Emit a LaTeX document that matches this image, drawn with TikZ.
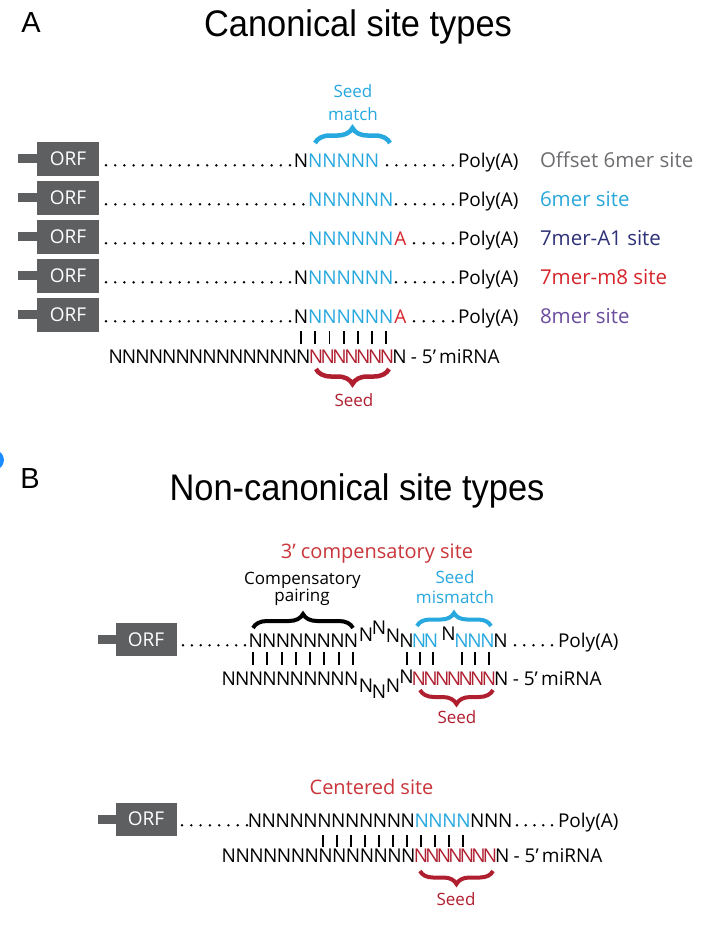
\documentclass[tikz,border=0pt]{standalone}
\usepackage{fontspec}
\setmainfont{Open Sans}
\newfontfamily\arialf{Liberation Sans}
\usetikzlibrary{decorations.pathreplacing}
\definecolor{orfgray}{HTML}{5E5F61}
\definecolor{cyanN}{HTML}{27A8DF}
\definecolor{seedred}{HTML}{B01F30}
\definecolor{redA}{HTML}{D7252C}
\definecolor{compred}{HTML}{C9353A}
\definecolor{navyl}{HTML}{2E3178}
\definecolor{purplel}{HTML}{6B4D9E}
\definecolor{grayl}{HTML}{6D6E71}
\definecolor{bluel}{HTML}{2AA8DA}
\definecolor{blobblue}{HTML}{1A8CFF}
\newcommand\Ns[2]{\foreach \k in {1,...,#1}{\makebox[#2pt]{N}}}
\newcommand\dotrow[4]{\foreach \x in {#1,#2,...,#3}{\fill (\x,#4) circle (1.35pt);}}
\begin{document}
\begin{tikzpicture}[x=1pt,y=-1pt,
  txt/.style={inner sep=0pt, outer sep=0pt, font=\fontsize{19}{21}\selectfont},
  seqt/.style={txt, anchor=base west},
  lbl/.style={inner sep=0pt, outer sep=0pt, anchor=base west, font=\fontsize{20.5}{22}\selectfont},
  small/.style={inner sep=0pt, outer sep=0pt, anchor=base, font=\fontsize{17}{19}\selectfont},
  sub/.style={inner sep=0pt, outer sep=0pt, anchor=base, font=\fontsize{20}{22}\selectfont, text=compred},
  ttl/.style={inner sep=0pt, outer sep=0pt, anchor=base, font=\arialf\fontsize{37}{40}\selectfont},
  panel/.style={inner sep=0pt, outer sep=0pt, anchor=base, font=\arialf\fontsize{29}{32}\selectfont},
  orfbox/.style={fill=orfgray, minimum width=62pt, minimum height=34pt, inner sep=0pt, text=white, font=\fontsize{19}{21}\selectfont},
  bar/.style={line width=1.9pt},
  brc/.style={decorate, decoration={brace, amplitude=#1}, line width=4.5pt},
]
\useasboundingbox (0,0) rectangle (715,932);
\fill[white] (0,0) rectangle (715,932);

% ---------------- Panel A ----------------
\node[panel] (labA) at (31,32) {A};
\node[ttl] (ttlA) at (358,36) {\scalebox{0.93}[1]{Canonical site types}};

% seed match label and brace
\node[small, text=cyanN] (smA1) at (353,97.5) {Seed};
\node[small, text=cyanN] (smA2) at (353,120) {match};
\draw[brc=15, draw=cyanN] (315,143) -- (390,143);

% ORF boxes with stubs
\foreach \yb/\nm in {167/1,206/2,245/3,284/4,323/5}{
  \fill[orfgray] (18,\yb-13) rectangle (38,\yb-4);
  \node[orfbox] (orfA\nm) at (68,\yb-8.5) {ORF};
}

% row 1 : offset 6mer
\dotrow{106}{115.2}{290.5}{165.3}
\node[seqt] (sA1) at (294,167) {\Ns{1}{14.2}\color{cyanN}\Ns{5}{14.2}};
\dotrow{387}{396.4}{453.5}{165.3}
\node[seqt] (pA1) at (458,167) {Poly(A)};
\node[lbl, text=grayl] (lA1) at (540,167) {Offset 6mer site};

% row 2 : 6mer
\dotrow{106}{115.4}{304}{204.3}
\node[seqt] (sA2) at (308.2,206) {\color{cyanN}\Ns{6}{14.2}};
\dotrow{396}{405.5}{453.5}{204.3}
\node[seqt] (pA2) at (458,206) {Poly(A)};
\node[lbl, text=bluel] (lA2) at (540,206) {6mer site};

% row 3 : 7mer-A1
\dotrow{106}{115.4}{304}{243.3}
\node[seqt] (sA3) at (308.2,245) {\color{cyanN}\Ns{6}{14.2}\color{redA}\makebox[14.2pt]{A}};
\dotrow{414}{423.75}{453.5}{243.3}
\node[seqt] (pA3) at (458,245) {Poly(A)};
\node[lbl, text=navyl] (lA3) at (540,245) {7mer-A1 site};

% row 4 : 7mer-m8
\dotrow{106}{115.2}{290.5}{282.3}
\node[seqt] (sA4) at (294,284) {\Ns{1}{14.2}\color{cyanN}\Ns{6}{14.2}};
\dotrow{396}{405.5}{453.5}{282.3}
\node[seqt] (pA4) at (458,284) {Poly(A)};
\node[lbl, text=redA] (lA4) at (540,284) {7mer-m8 site};

% row 5 : 8mer
\dotrow{106}{115.2}{290.5}{321.3}
\node[seqt] (sA5) at (294,323) {\Ns{1}{14.2}\color{cyanN}\Ns{6}{14.2}\color{redA}\makebox[14.2pt]{A}};
\dotrow{414}{423.75}{453.5}{321.3}
\node[seqt] (pA5) at (458,323) {Poly(A)};
\node[lbl, text=purplel] (lA5) at (540,323) {8mer site};

% pairing bars
\foreach \i in {0,...,6}{\draw[bar] ({301.1+14.2*\i},331) -- ++(0,13);}

% miRNA
\node[seqt] (mA) at (109,363) {\Ns{15}{13.4}\color{seedred}\Ns{7}{11.85}\color{black}\makebox[13pt]{N} - 5’\,miRNA};
\draw[brc=15, draw=seedred] (389,369) -- (316,369);
\node[small, text=seedred] (seedA) at (354,406) {Seed};

% ---------------- Panel B ----------------
\fill[blobblue] (-6,460) circle (10pt);
\node[panel] (labB) at (30,488) {B};
\node[ttl] (ttlB) at (357,500) {\scalebox{0.93}[1]{Non-canonical site types}};

% 3' compensatory site
\node[sub] (compT) at (377,558) {3’ compensatory site};
\node[small] (cp1) at (302.5,584) {Compensatory};
\node[small] (cp2) at (302,601.5) {pairing};
\node[small, text=cyanN] (sm1) at (455,583) {Seed};
\node[small, text=cyanN] (sm2) at (455,603) {mismatch};
\draw[brc=14, line width=4pt] (253,628) -- (353,628);
\draw[brc=13, line width=4pt, draw=cyanN] (417,626) -- (491,626);

\fill[orfgray] (98,635) rectangle (116,644);
\node[orfbox, minimum width=61pt, minimum height=33pt] (orfB1) at (146,639.5) {ORF};
\dotrow{183}{191.86}{245.5}{645.3}
\node[seqt] (tB1) at (249,647) {\Ns{8}{13.6}};
\node[txt, anchor=base] (bu1) at (366,641) {N};
\node[txt, anchor=base] (bu2) at (379,634) {N};
\node[txt, anchor=base] (bu3) at (393,642) {N};
\node[txt, anchor=base] (bu4) at (406.5,647) {N};
\node[seqt] (tB2) at (413,647) {\color{cyanN}\Ns{2}{12}};
\node[txt, anchor=base] (mm) at (448.5,640) {N};
\node[seqt] (tB3) at (455,647) {\color{cyanN}\Ns{3}{13}\color{black}\Ns{1}{13}};
\dotrow{515}{524.25}{552.5}{645.3}
\node[seqt] (pB1) at (558,647) {Poly(A)};

\foreach \x in {253,267.3,281.6,295.8,310.1,324.4,338.7,353,407,420,433,462,475,489}{\draw[bar] (\x,652) -- ++(0,13);}

\node[seqt] (bB1) at (222,685) {\Ns{10}{13.6}};
\node[txt, anchor=base] (dp1) at (366,692) {N};
\node[txt, anchor=base] (dp2) at (379,698) {N};
\node[txt, anchor=base] (dp3) at (393,692) {N};
\node[txt, anchor=base] (dp4) at (406.5,683) {N};
\node[seqt] (bB2) at (413,685) {\color{seedred}\Ns{7}{11.7}\color{black}\makebox[13pt]{N} - 5’\,miRNA};
\draw[brc=14, line width=4pt, draw=seedred] (493,690) -- (420,690);
\node[small, text=seedred] (seedB1) at (457,723) {Seed};

% Centered site
\node[sub] (cenT) at (371.5,794) {Centered site};
\fill[orfgray] (98,814.5) rectangle (116,823.5);
\node[orfbox, minimum width=61pt, minimum height=33pt] (orfB2) at (146,819) {ORF};
\dotrow{182}{191.29}{247.5}{825.3}
\node[seqt] (tC) at (248,827) {\Ns{12}{13.9}\color{cyanN}\Ns{4}{13.9}\color{black}\Ns{3}{13.9}};
\dotrow{517}{525.75}{552.5}{825.3}
\node[seqt] (pC) at (558,827) {Poly(A)};
\foreach \i in {0,...,10}{\draw[bar] ({323+14*\i},835) -- ++(0,12);}
\node[seqt] (bC) at (222,862) {\Ns{14}{13.8}\color{seedred}\Ns{7}{11.5}\color{black}\makebox[13pt]{N} - 5’\,miRNA};
\draw[brc=13, line width=4pt, draw=seedred] (493,871) -- (420,871);
\node[small, text=seedred] (seedC) at (456,905) {Seed};
\end{tikzpicture}
\end{document}
